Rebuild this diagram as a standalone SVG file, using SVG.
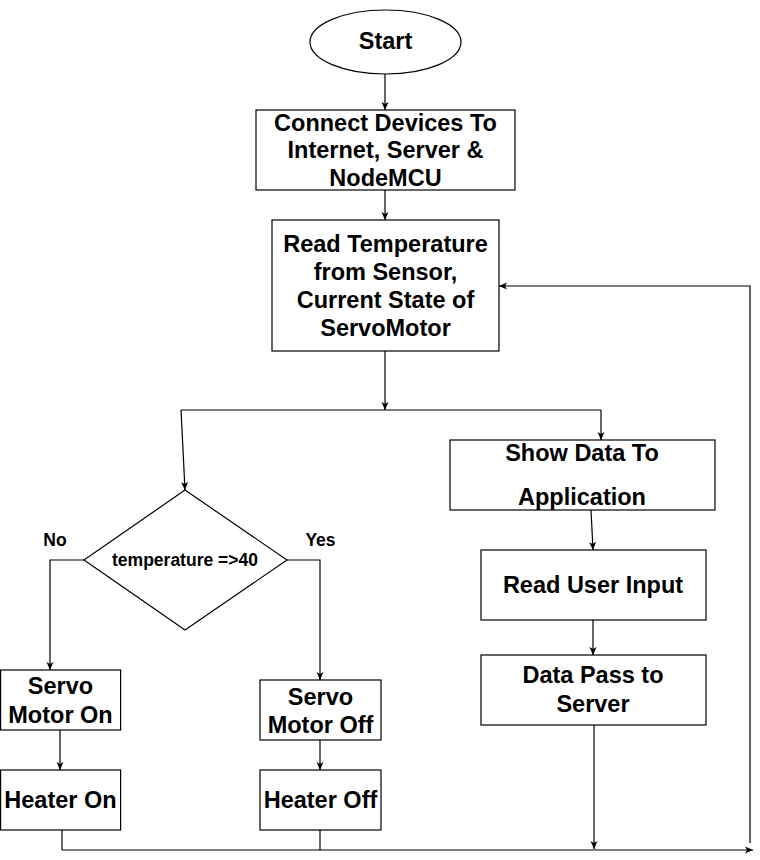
<svg xmlns="http://www.w3.org/2000/svg" width="760" height="860" viewBox="0 0 760 860">
<defs>
<marker id="arr" markerWidth="10" markerHeight="8" refX="8" refY="3.5" orient="auto" markerUnits="userSpaceOnUse">
<path d="M0,0 L8,3.5 L0,7 L2,3.5 z" fill="#000"/>
</marker>
</defs>
<style>
.shape{fill:#fff;stroke:#000;stroke-width:1.2}
.t{font-family:"Liberation Sans",Arial,sans-serif;font-weight:bold;font-size:23.5px;text-anchor:middle;fill:#000}
.s{font-family:"Liberation Sans",Arial,sans-serif;font-weight:bold;font-size:17.5px;text-anchor:middle;fill:#000}
.c{fill:none;stroke:#000;stroke-width:1.2}
.ca{fill:none;stroke:#000;stroke-width:1.2;marker-end:url(#arr)}
</style>
<rect width="760" height="860" fill="#fff"/>
<g id="connectors">
<line class="ca" x1="385" y1="74" x2="385" y2="110"/>
<line class="ca" x1="385" y1="190" x2="385" y2="220"/>
<line class="ca" x1="385" y1="351" x2="385" y2="410"/>
<polyline class="c" points="181,410 601,410"/>
<line class="ca" x1="181" y1="410" x2="185" y2="490"/>
<line class="ca" x1="601" y1="410" x2="601" y2="440"/>
<line class="ca" x1="591" y1="510" x2="593" y2="550"/>
<line class="ca" x1="593" y1="620" x2="593" y2="655"/>
<line class="ca" x1="594" y1="725" x2="594" y2="849"/>
<polyline class="ca" points="84,560 50,560 50,670"/>
<polyline class="ca" points="287,560 320,560 320,680"/>
<line class="ca" x1="60" y1="730" x2="60" y2="770"/>
<line class="ca" x1="320" y1="740" x2="320" y2="770"/>
<line class="c" x1="62" y1="830" x2="62" y2="850"/>
<line class="c" x1="320" y1="830" x2="320" y2="850"/>
<line class="ca" x1="62" y1="850" x2="753" y2="850"/>
<polyline class="ca" points="750,843 750,286 499,286"/>
<text class="s" x="55" y="545.5">No</text>
<text class="s" x="320.5" y="545.5">Yes</text>
</g>
<g id="start">
<ellipse class="shape" cx="385.5" cy="42" rx="75.5" ry="32"/>
<text class="t" x="385.5" y="49">Start</text>
</g>
<g id="connect">
<rect class="shape" x="256" y="110" width="259" height="80"/>
<text class="t" x="385.5" y="131">Connect Devices To</text>
<text class="t" x="385.5" y="158.3">Internet, Server &amp;</text>
<text class="t" x="385.5" y="185.5">NodeMCU</text>
</g>
<g id="readtemp">
<rect class="shape" x="272" y="220" width="227" height="131"/>
<text class="t" x="385.5" y="251.5">Read Temperature</text>
<text class="t" x="385.5" y="279.5">from Sensor,</text>
<text class="t" x="385.5" y="307.5">Current State of</text>
<text class="t" x="385.5" y="336">ServoMotor</text>
</g>
<g id="decision">
<polygon class="shape" points="185,490 287,560 185,630 84,560"/>
<text class="s" x="185" y="566">temperature =&gt;40</text>
</g>
<g id="showdata">
<rect class="shape" x="450" y="440" width="265" height="70"/>
<text class="t" x="582" y="461">Show Data To</text>
<text class="t" x="582" y="505">Application</text>
</g>
<g id="readinput">
<rect class="shape" x="481" y="550" width="225" height="70"/>
<text class="t" x="593" y="593">Read User Input</text>
</g>
<g id="datapass">
<rect class="shape" x="481" y="655" width="225" height="70"/>
<text class="t" x="593" y="683">Data Pass to</text>
<text class="t" x="593" y="712">Server</text>
</g>
<g id="servoon">
<rect class="shape" x="0.6" y="670" width="120" height="60"/>
<text class="t" x="60.5" y="694">Servo</text>
<text class="t" x="60.5" y="723">Motor On</text>
</g>
<g id="servooff">
<rect class="shape" x="260" y="680" width="121" height="60"/>
<text class="t" x="320.5" y="705">Servo</text>
<text class="t" x="320.5" y="733">Motor Off</text>
</g>
<g id="heateron">
<rect class="shape" x="0.6" y="770" width="120" height="60"/>
<text class="t" x="60.5" y="808">Heater On</text>
</g>
<g id="heateroff">
<rect class="shape" x="260" y="770" width="121" height="60"/>
<text class="t" x="320.5" y="808">Heater Off</text>
</g>
</svg>
